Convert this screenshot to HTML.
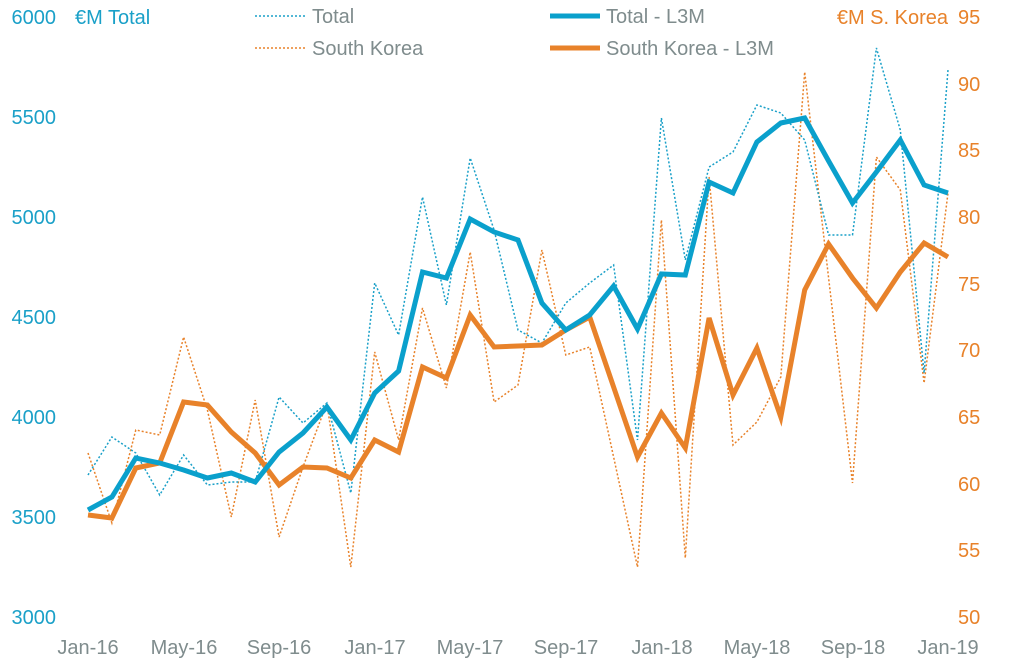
<!DOCTYPE html>
<html><head><meta charset="utf-8"><style>
html,body{margin:0;padding:0;background:#fff;}
svg{display:block;font-family:"Liberation Sans",sans-serif;}
</style></head><body>
<svg width="1012" height="664" viewBox="0 0 1012 664" xmlns="http://www.w3.org/2000/svg">
<g font-size="20" fill="#1aa0c8" text-anchor="end">
<text x="56" y="24">6000</text><text x="56" y="124">5500</text><text x="56" y="224">5000</text>
<text x="56" y="324">4500</text><text x="56" y="424">4000</text><text x="56" y="524">3500</text>
<text x="56" y="624">3000</text>
</g>
<g font-size="20" fill="#e8822a" text-anchor="start">
<text x="958" y="24">95</text><text x="958" y="91">90</text><text x="958" y="157">85</text>
<text x="958" y="224">80</text><text x="958" y="291">75</text><text x="958" y="357">70</text>
<text x="958" y="424">65</text><text x="958" y="491">60</text><text x="958" y="557">55</text>
<text x="958" y="624">50</text>
</g>
<g font-size="20" fill="#7f8c8d" text-anchor="middle">
<text x="88" y="654">Jan-16</text><text x="184" y="654">May-16</text><text x="279" y="654">Sep-16</text>
<text x="375" y="654">Jan-17</text><text x="470" y="654">May-17</text><text x="566" y="654">Sep-17</text>
<text x="662" y="654">Jan-18</text><text x="757" y="654">May-18</text><text x="853" y="654">Sep-18</text>
<text x="948" y="654">Jan-19</text>
</g>
<text x="75" y="24" font-size="20" fill="#1aa0c8">€M Total</text>
<text x="948" y="24" font-size="20" fill="#e8822a" text-anchor="end">€M S. Korea</text>
<g font-size="20" fill="#7f8c8d">
<line x1="255" y1="16" x2="305" y2="16" stroke="#1aa0c8" stroke-width="1.5" stroke-dasharray="2,2"/>
<text x="312" y="23">Total</text>
<line x1="550" y1="16" x2="600" y2="16" stroke="#0aa0cc" stroke-width="5"/>
<text x="606" y="23">Total - L3M</text>
<line x1="255" y1="48" x2="305" y2="48" stroke="#e8822a" stroke-width="1.5" stroke-dasharray="2,2"/>
<text x="312" y="55">South Korea</text>
<line x1="550" y1="48" x2="600" y2="48" stroke="#e8822a" stroke-width="5"/>
<text x="606" y="55">South Korea - L3M</text>
</g>
<g fill="none" stroke-linejoin="miter">
<polyline id="kr" stroke="#e8822a" stroke-width="1.5" stroke-dasharray="2,2" points=""/>
<polyline id="tr" stroke="#1aa0c8" stroke-width="1.5" stroke-dasharray="2,2" points=""/>
<polyline id="kl" stroke="#e8822a" stroke-width="5" points=""/>
<polyline id="tl" stroke="#0aa0cc" stroke-width="5" points=""/>
</g>
<script>
function pts(a){return a.map(function(y,i){return (88+i*23.89).toFixed(1)+","+y}).join(" ");}
var tl=[510,497,458,463,470,478,473,482,452,433,407,440,393,371,272,278,219,232,240,303,330,315,286,329,274,275,182,193,142,123,118,161,203,172,140,185,193];
var kl=[515,518,468,463,402,405,432,453,485,467,468,478,440,452,367,378,315,347,346,345,330,317,387,457,413,448,318,395,348,417,290,244,278,308,272,243,257];
var tr=[475,437,453,495,455,485,482,482,397,423,403,493,283,335,197,305,158,230,330,343,303,283,265,440,118,260,167,152,105,113,140,235,235,48,130,373,70];
var kr=[453,523,430,435,337,410,517,400,537,467,403,567,352,440,308,388,252,402,385,250,355,347,457,567,220,558,177,445,422,377,72,278,483,157,190,383,193];
document.getElementById("tl").setAttribute("points",pts(tl));
document.getElementById("kl").setAttribute("points",pts(kl));
document.getElementById("tr").setAttribute("points",pts(tr));
document.getElementById("kr").setAttribute("points",pts(kr));
</script>
</svg>
</body></html>
